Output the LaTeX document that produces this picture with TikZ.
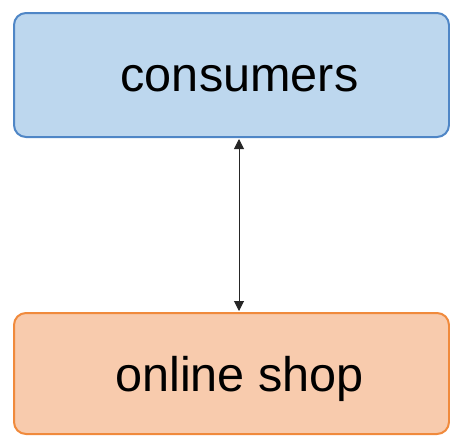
\documentclass[tikz,border=0pt]{standalone}
\usepackage{fontspec}
\setmainfont{Liberation Sans}
\usetikzlibrary{arrows.meta, positioning}

\definecolor{bluefill}{HTML}{BDD7EE}
\definecolor{blueline}{HTML}{4F86C6}
\definecolor{orangefill}{HTML}{F8CBAD}
\definecolor{orangeline}{HTML}{F08A3C}

\begin{document}
\begin{tikzpicture}[
    x=0.5pt, y=-0.5pt,
    font=\fontsize{24.3}{28}\selectfont,
    % Styles
    box/.style={rounded corners=6pt, line width=1pt, minimum width=217.5pt, inner sep=0pt, anchor=center,
        text depth=0pt, execute at begin node={\hspace*{8pt}}},
    blue_box/.style={box, draw=blueline, fill=bluefill, minimum height=62pt, text height=16.6pt},
    orange_box/.style={box, draw=orangeline, fill=orangefill, minimum height=60.5pt, text height=18.1pt},
    link/.style={{Triangle[length=5pt,width=5pt]}-{Triangle[length=5pt,width=5pt]}, line width=0.5pt, draw=black!85}
]
\useasboundingbox (0,0) rectangle (450,435);

% 1. Consumers
\node[blue_box] (consumers) at (231.5,75) {consumers};

% 2. Online shop
\node[orange_box] (shop) at (231.5,373.5) {online shop};

% Connection
\draw[link] ([xshift=3.75pt,yshift=-0.5pt]consumers.south) -- ([xshift=3.75pt,yshift=0.5pt]shop.north);

\end{tikzpicture}
\end{document}
